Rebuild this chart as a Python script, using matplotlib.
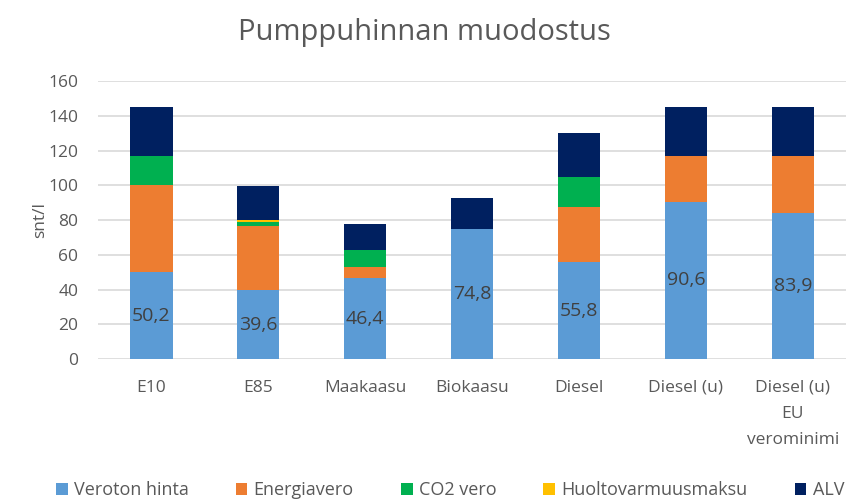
import numpy as np
import matplotlib.pyplot as plt

plt.rcParams['font.family'] = ['Open Sans', 'DejaVu Sans']

categories = ['E10', 'E85', 'Maakaasu', 'Biokaasu', 'Diesel', 'Diesel (u)', 'Diesel (u)\nEU\nverominimi']
veroton = [50.2, 39.6, 46.4, 74.8, 55.8, 90.6, 83.9]
energiavero = [50.0, 36.9, 6.4, 0.0, 31.7, 26.0, 32.7]
co2_vero = [16.4, 2.5, 9.8, 0.0, 17.3, 0.0, 0.0]
huolto = [0.0, 0.8, 0.0, 0.0, 0.0, 0.0, 0.0]
alv = [28.3, 19.6, 15.0, 18.1, 25.1, 28.3, 28.3]

series = [
    ('Veroton hinta', veroton, '#5B9BD5'),
    ('Energiavero', energiavero, '#ED7D31'),
    ('CO2 vero', co2_vero, '#00B050'),
    ('Huoltovarmuusmaksu', huolto, '#FFC000'),
    ('ALV', alv, '#002060'),
]

grey = '#595959'
fig = plt.figure(figsize=(8.49, 5.03), dpi=100)
ax = fig.add_axes([0.115, 0.286, 0.882, 0.553])

x = np.arange(len(categories))
bottom = np.zeros(len(categories))
for name, vals, col in series:
    vals = np.array(vals)
    ax.bar(x, vals, 0.4, bottom=bottom, color=col, label=name, zorder=3)
    bottom += vals

for xi, v in zip(x, veroton):
    ax.text(xi, v / 2, f'{v:.1f}'.replace('.', ','), ha='center', va='center',
            fontsize=14, color='#404040', zorder=4)

ax.set_xlim(-0.5, len(categories) - 0.5)
ax.set_ylim(0, 160)
ax.set_yticks(np.arange(0, 161, 20))
ax.set_xticks(x)
ax.set_xticklabels(categories, fontsize=12.5, color=grey, linespacing=1.85, va='top')
ax.tick_params(axis='y', length=0, labelsize=12.5, colors=grey, pad=14)
ax.tick_params(axis='x', length=0, colors=grey, pad=15)
ax.yaxis.grid(True, color='#d9d9d9', linewidth=1.2, zorder=0)
for s in ax.spines.values():
    s.set_visible(False)
ax.set_ylabel('snt/l', fontsize=12.5, color=grey, labelpad=0)

fig.suptitle('Pumppuhinnan muodostus', fontsize=21, color=grey, y=0.965)

fig.legend(loc='lower center', ncol=5, frameon=False, fontsize=13,
           bbox_to_anchor=(0.53, -0.025), handlelength=0.65, handleheight=0.65,
           handletextpad=0.35, columnspacing=2.6, labelcolor=grey)

fig.savefig('out.png', dpi=100)
